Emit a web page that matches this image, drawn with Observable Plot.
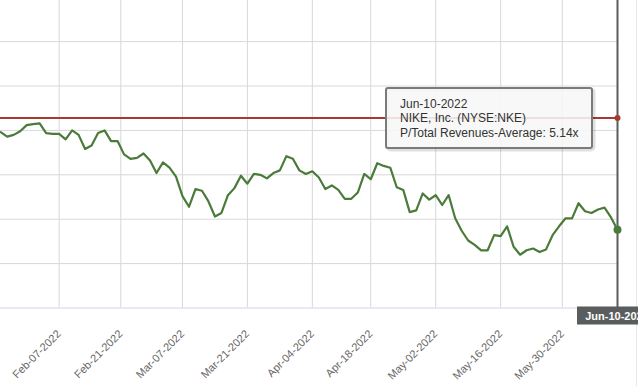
<!DOCTYPE html>
<html>
<head>
<meta charset="utf-8">
<script src="https://cdn.jsdelivr.net/npm/d3@7"></script>
<script src="https://cdn.jsdelivr.net/npm/@observablehq/plot@0.6"></script>
<style>
html, body { margin: 0; padding: 0; background: #fff; overflow: hidden; }
#chart { position: relative; width: 638px; height: 386px; overflow: hidden; }
#chart svg { display: block; }
</style>
</head>
<body>
<div id="chart"></div>
<script>
// ---- data ----
const startDate = "2022-01-25";
const endDate = "2022-06-10";
const holidays = ["2022-02-21", "2022-04-15", "2022-05-30"];
const values = [
  4.98, 4.93, 4.95, 4.99, 5.06, 5.07, 5.08, 4.97, 4.96, 4.96,
  4.90, 5.00, 4.95, 4.79, 4.83, 4.97, 5.00, 4.88, 4.88, 4.73,
  4.68, 4.69, 4.74, 4.66, 4.52, 4.64, 4.58, 4.48, 4.26, 4.14,
  4.34, 4.32, 4.20, 4.03, 4.07, 4.27, 4.35, 4.49, 4.40, 4.51,
  4.50, 4.46, 4.52, 4.55, 4.71, 4.68, 4.55, 4.51, 4.54, 4.47,
  4.34, 4.38, 4.33, 4.23, 4.23, 4.30, 4.51, 4.45, 4.63, 4.60,
  4.58, 4.36, 4.33, 4.08, 4.10, 4.29, 4.22, 4.27, 4.16, 4.27,
  4.01, 3.87, 3.76, 3.71, 3.65, 3.65, 3.82, 3.81, 3.92, 3.69,
  3.60, 3.65, 3.67, 3.63, 3.66, 3.82, 3.92, 4.01, 4.01, 4.18,
  4.09, 4.07, 4.11, 4.13, 4.02, 3.88
];
const average = 5.14;
const tickLabels = ["Feb-07-2022", "Feb-21-2022", "Mar-07-2022", "Mar-21-2022", "Apr-04-2022",
                    "Apr-18-2022", "May-02-2022", "May-16-2022", "May-30-2022"];
const yGridValues = [3.5, 4, 4.5, 5, 5.5, 6];
const yDomain = [3, 6.463];
const tooltipDate = "Jun-10-2022";
const companyName = "NIKE, Inc. (NYSE:NKE)";
const metricName = "P/Total Revenues-Average";

// ---- derived ----
const parseISO = d3.utcParse("%Y-%m-%d");
const fmtISO = d3.utcFormat("%Y-%m-%d");
const parseLabel = d3.utcParse("%b-%d-%Y");
const days = d3.utcDay
  .range(parseISO(startDate), d3.utcDay.offset(parseISO(endDate), 1))
  .filter(d => d.getUTCDay() !== 0 && d.getUTCDay() !== 6 && !holidays.includes(fmtISO(d)));
const data = days.map((d, i) => ({ i, date: d, value: values[i] }));
function pos(date) {
  const k = d3.bisectLeft(days, date);
  return (days[k] && +days[k] === +date) ? k : k - 0.5;
}
const ticks = tickLabels.map(l => ({ label: l, t: pos(parseLabel(l)) }));
const tickMap = new Map(ticks.map(d => [d.t, d.label]));
const last = data[data.length - 1];

const green = "#4a7b3b";
const red = "#a8392f";
const grid = "#d8d8d8";
const cross = "#595d5e";

const chart = Plot.plot({
  width: 638,
  height: 386,
  marginLeft: 0,
  marginRight: 21,
  marginTop: 0,
  marginBottom: 78.5,
  x: { type: "linear", domain: [-0.03, last.i], axis: null, label: null },
  y: { domain: yDomain, axis: null, label: null },
  style: { fontFamily: "'Liberation Sans', Arial, sans-serif", fontSize: "11px", color: "#666", background: "#fff" },
  marks: [
    Plot.gridY(yGridValues, { stroke: grid, strokeOpacity: 1 }),
    Plot.gridX(ticks.map(d => d.t), { stroke: grid, strokeOpacity: 1 }),
    Plot.ruleY([yDomain[0]], { stroke: "#ccd6eb" }),
    Plot.axisX(ticks.map(d => d.t), {
      tickFormat: t => tickMap.get(t),
      tickRotate: -45,
      textAnchor: "end",
      tickSize: 0,
      tickPadding: 24,
      fontSize: 11,
      fill: "#666",
      label: null
    }),
    Plot.ruleY([average], { stroke: red, strokeWidth: 2 }),
    Plot.line(data, { x: "i", y: "value", stroke: green, strokeWidth: 2.2, clip: true }),
    Plot.ruleX([last.i], { stroke: cross, strokeWidth: 2 }),
    Plot.dot([last], { x: "i", y: "value", r: 4, fill: green }),
    Plot.dot([{ i: last.i, v: average }], { x: "i", y: "v", r: 3, fill: red })
  ]
});

document.getElementById("chart").appendChild(chart);

// ---- annotations positioned from the scales ----
const xs = chart.scale("x");
const ys = chart.scale("y");
const svg = d3.select(chart);
const cx = xs.apply(last.i);
const yBottom = ys.apply(yDomain[0]);

// faint right border
svg.append("line").attr("x1", 636.5).attr("x2", 636.5).attr("y1", 0).attr("y2", 386)
  .attr("stroke", "#e8e8e8");

// crosshair date label (clipped at the right edge, as in the reference)
const lab = svg.append("g");
lab.append("rect").attr("x", cx - 40).attr("y", yBottom - 1).attr("width", 80).attr("height", 18).attr("fill", cross);
lab.append("text").attr("x", cx).attr("y", yBottom + 12).attr("text-anchor", "middle")
  .attr("fill", "#fff").attr("font-weight", "bold").attr("font-size", "11px").text(tooltipDate);

// tooltip
const tw = 206, th = 60;
const tx = cx - 25 - tw, ty = ys.apply(average) - 29.5;
const tip = svg.append("g").attr("text-anchor", "start");
tip.append("rect").attr("x", tx + 1.5).attr("y", ty + 1.5).attr("width", tw).attr("height", th).attr("rx", 3)
  .attr("fill", "none").attr("stroke", "rgba(0,0,0,0.12)").attr("stroke-width", 4);
tip.append("rect").attr("x", tx).attr("y", ty).attr("width", tw).attr("height", th).attr("rx", 2)
  .attr("fill", "rgba(247,247,247,0.88)").attr("stroke", "#7b7b7b").attr("stroke-width", 2);
const lines = [tooltipDate, companyName, `${metricName}: ${average.toFixed(2)}x`];
lines.forEach((s, k) => {
  tip.append("text").attr("x", tx + 14).attr("y", ty + 20 + k * 14.3).attr("text-anchor", "start")
    .attr("fill", "#333").attr("font-size", "12px").text(s);
});
</script>
</body>
</html>
